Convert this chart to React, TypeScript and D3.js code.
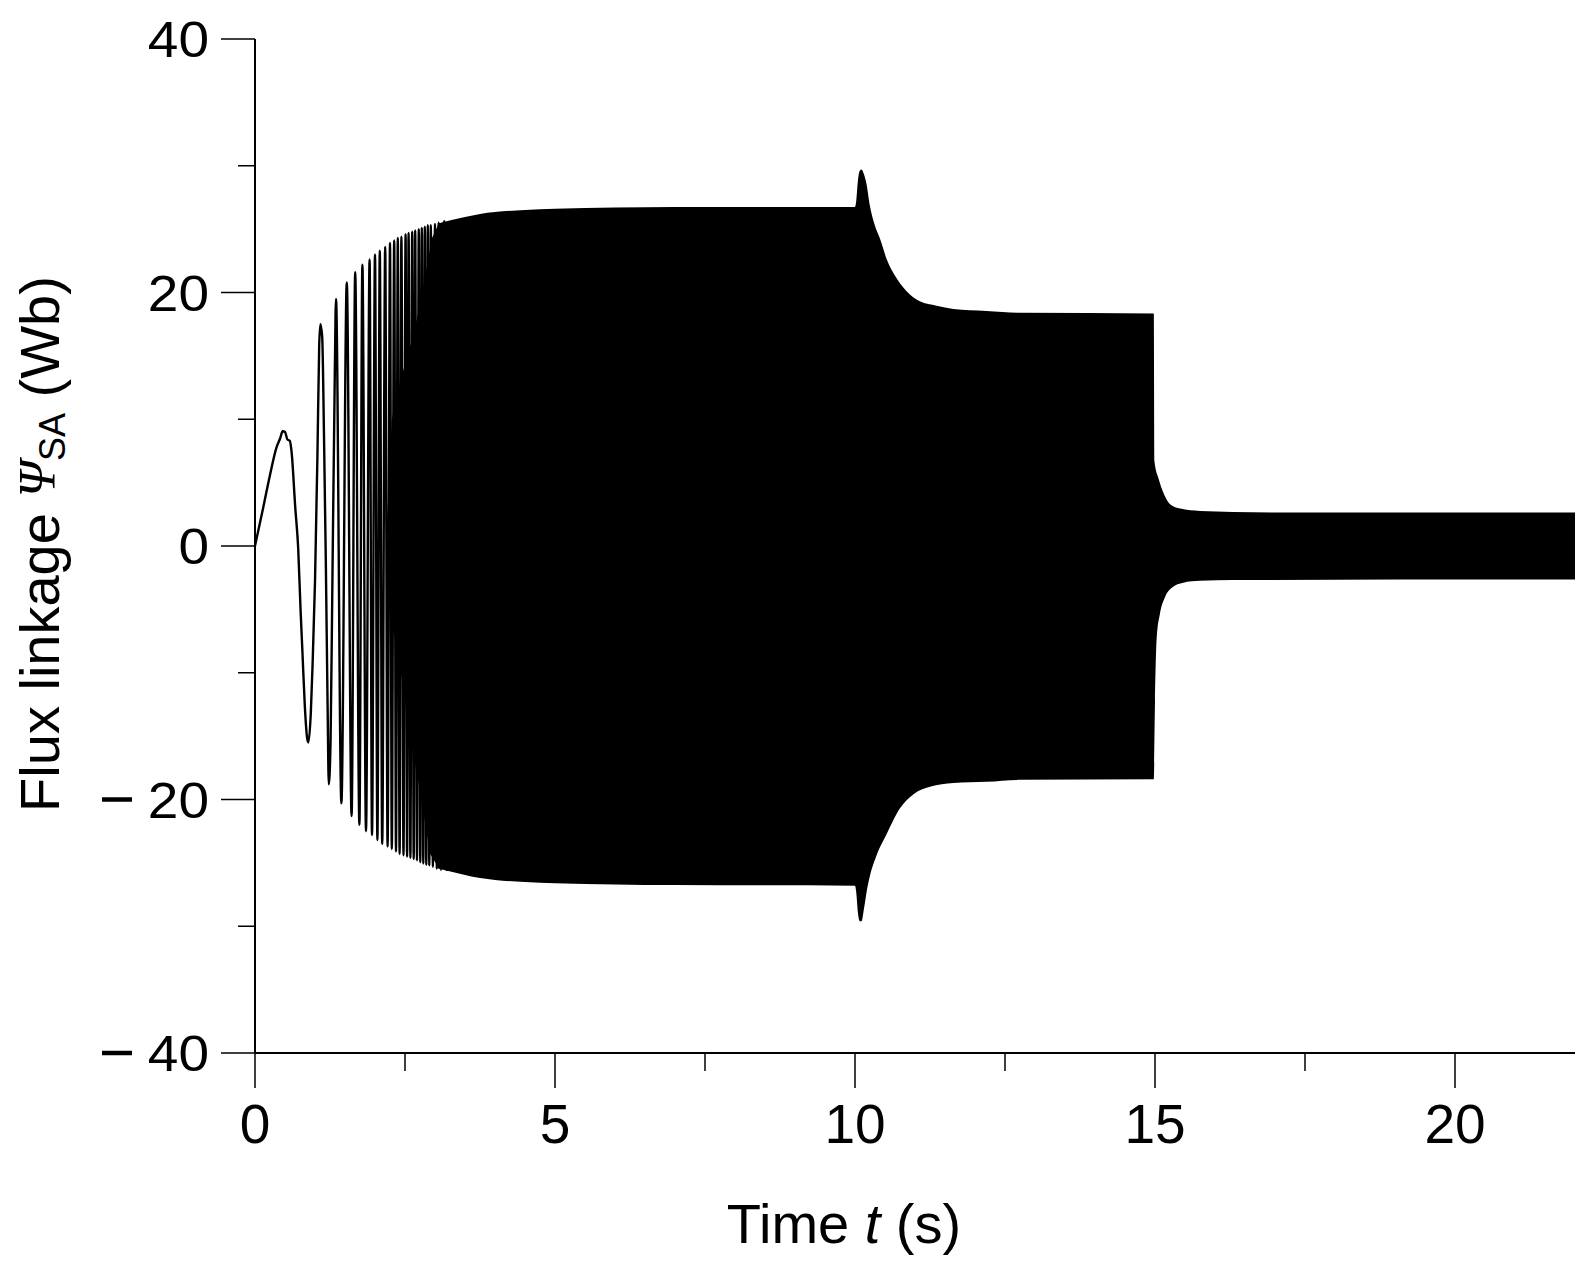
import * as d3 from 'd3';

// axis ticks
const xMajor = [0, 5, 10, 15, 20];
const xMinor = [2.5, 7.5, 12.5, 17.5];
const yMajor = [-40, -20, 0, 20, 40];
const yMinor = [-30, -10, 10, 30];

// start-up swing, read point by point, then the alternating peaks of the chirp
const traceT = [
  0, 0.14, 0.25, 0.36, 0.42, 0.46, 0.5, 0.54, 0.58, 0.61, 0.67, 0.72, 0.76, 0.79, 0.83, 0.87, 0.89,
  0.93, 0.96, 1.0, 1.04, 1.07, 1.09, 1.12, 1.15, 1.18, 1.21, 1.23, 1.26, 1.29, 1.33, 1.35,
  1.44, 1.53, 1.61, 1.67, 1.74, 1.79, 1.85, 1.91, 1.95, 2.0, 2.04, 2.08, 2.12, 2.17, 2.21, 2.25,
  2.28, 2.32, 2.35, 2.38, 2.41, 2.44, 2.475, 2.51, 2.535, 2.56, 2.59, 2.62, 2.645, 2.67, 2.7,
  2.73, 2.755, 2.78, 2.805, 2.83, 2.855, 2.88, 2.905, 2.93, 2.965, 3.0, 3.03, 3.06, 3.1, 3.15, 3.2,
];
const traceV = [
  0, 3.1, 5.6, 7.8, 8.5, 9.05, 9.0, 8.4, 8.3, 7.4, 3.1, -0.2, -5.1, -8.3, -12.6, -15.2, -15.5,
  -13.2, -9.3, -2.8, 7.0, 15.8, 17.5, 16.5, 8.7, -1.1, -12.6, -18.8, -15.2, -2.8, 13.6, 19.5,
  -20.3, 20.8, -21.3, 21.6, -22.0, 22.2, -22.5, 22.6, -22.8, 23.0, -23.2, 23.3, -23.5, 23.6, -23.7, 23.9,
  -23.9, 24.1, -24.1, 24.3, -24.3, 24.4, -24.4, 24.6, -24.5, 24.7, -24.6, 24.8, -24.7, 24.9, -24.8,
  25.0, -24.95, 25.1, -25.05, 25.2, -25.15, 25.3, -25.2, 25.3, -25.3, 25.4, -25.45, 25.5, -25.55, 25.6, -25.65,
];

// where the chirp already reads as solid black (left edge of the dark core)
const coreT = [3.05, 2.95, 2.75, 2.6, 2.42, 2.28, 2.2, 2.22, 2.35, 2.47, 2.58, 2.72, 2.92, 3.05];
const coreV = [25.3, 24.3, 19, 16, 13, 10, 2, -4, -8, -11, -15, -18.5, -24.3, -25.3];

// envelope of the dense oscillation
const upperT = [3.05, 3.5, 3.75, 4.0, 4.5, 5.0, 6.0, 7.0, 10.0, 10.02, 10.05, 10.08, 10.11, 10.15, 10.19,
  10.25, 10.33, 10.42, 10.53, 10.67, 10.86, 11.08, 11.36, 11.64, 12.19, 12.75, 14.98, 14.99, 15.06, 15.14,
  15.25, 15.42, 15.75, 16.3, 17.0, 22.0];
const upperV = [25.45, 25.95, 26.2, 26.35, 26.5, 26.6, 26.7, 26.75, 26.75, 27.2, 28.9, 29.6, 29.7, 29.3, 28.6,
  26.8, 25.3, 24.2, 22.6, 21.3, 20.1, 19.3, 18.95, 18.7, 18.55, 18.4, 18.35, 6.7, 5.3, 4.2,
  3.3, 2.95, 2.76, 2.69, 2.65, 2.65];
const lowerT = [3.05, 3.5, 3.75, 4.0, 4.5, 5.0, 6.0, 7.0, 10.0, 10.02, 10.05, 10.08, 10.11, 10.15, 10.2,
  10.25, 10.36, 10.53, 10.75, 10.97, 11.25, 11.64, 12.19, 12.75, 14.98, 15.0, 15.03, 15.08, 15.17,
  15.28, 15.47, 15.75, 16.3, 22.0];
const lowerV = [-25.45, -25.95, -26.2, -26.35, -26.5, -26.6, -26.7, -26.75, -26.8, -27.3, -29.0, -29.6, -29.6, -28.6, -27.1,
  -26.0, -24.4, -22.7, -20.7, -19.6, -19.0, -18.7, -18.6, -18.45, -18.4, -12.3, -7.1, -5.4, -4.0,
  -3.3, -2.9, -2.75, -2.68, -2.65];

const font = 'Liberation Sans, Arial, Helvetica, sans-serif';

const App = () => {
  const x = d3.scaleLinear().domain([0, 22]).range([255, 1575]);
  const y = d3.scaleLinear().domain([-40, 40]).range([1053, 39]);

  const trace = d3.line<number>()
    .x(i => x(traceT[i]))
    .y(i => y(traceV[i]))
    .curve(d3.curveMonotoneX)(traceT.map((_, i) => i)) ?? '';

  const upperArea = d3.area<number>()
    .x(i => x(upperT[i]))
    .y0(y(0))
    .y1(i => y(upperV[i]))
    .curve(d3.curveMonotoneX)(upperT.map((_, i) => i)) ?? '';
  const lowerArea = d3.area<number>()
    .x(i => x(lowerT[i]))
    .y0(y(0))
    .y1(i => y(lowerV[i]))
    .curve(d3.curveMonotoneX)(lowerT.map((_, i) => i)) ?? '';

  const core = d3.line<number>()
    .x(i => x(coreT[i]))
    .y(i => y(coreV[i]))(coreT.map((_, i) => i)) + 'Z';

  const x0 = x(0);
  const yb = y(-40);

  return (
    <svg width={1595} height={1273} style={{ position: 'absolute', left: 0, top: 0, background: '#fff' }}>
      <path d={upperArea} fill="#000" />
      <path d={lowerArea} fill="#000" />
      <path d={core} fill="#000" />
      <path d={trace} fill="none" stroke="#000" strokeWidth={2.4} />

      {/* y axis */}
      <line x1={x0} x2={x0} y1={y(40)} y2={yb} stroke="#000" strokeWidth={2} />
      {yMajor.map(v => (
        <g key={'ym' + v}>
          <line x1={x0 - 34} x2={x0} y1={y(v)} y2={y(v)} stroke="#000" strokeWidth={1.5} />
          <text transform={`translate(209,${y(v) + 18}) scale(1.1,1)`} textAnchor="end" fontFamily={font} fontSize={50}>
            {Math.abs(v)}
          </text>
          {v < 0 && (
            <line x1={102} x2={132} y1={y(v)} y2={y(v)} stroke="#000" strokeWidth={4.5} />
          )}
        </g>
      ))}
      {yMinor.map(v => (
        <line key={'yn' + v} x1={x0 - 17} x2={x0} y1={y(v)} y2={y(v)} stroke="#000" strokeWidth={1.5} />
      ))}

      {/* x axis */}
      <line x1={x0} x2={x(22)} y1={yb} y2={yb} stroke="#000" strokeWidth={2} />
      {xMajor.map(t => (
        <g key={'xm' + t}>
          <line x1={x(t)} x2={x(t)} y1={yb} y2={yb + 35} stroke="#000" strokeWidth={1.5} />
          <text x={x(t)} y={1143} textAnchor="middle" fontFamily={font} fontSize={55}>{t}</text>
        </g>
      ))}
      {xMinor.map(t => (
        <line key={'xn' + t} x1={x(t)} x2={x(t)} y1={yb} y2={yb + 18} stroke="#000" strokeWidth={1.5} />
      ))}

      <text x={844} y={1243} textAnchor="middle" fontFamily={font} fontSize={56}>
        Time <tspan fontStyle="italic">t</tspan> (s)
      </text>

      <text transform="translate(59,544) rotate(-90)" textAnchor="middle" fontFamily={font} fontSize={56}>
        Flux linkage <tspan fontFamily="Liberation Serif, DejaVu Serif, serif" fontStyle="italic" fontSize={52} dy={-4}>Ψ</tspan>
        <tspan fontSize={36} dy={10}>SA</tspan>
        <tspan dy={-6}> (Wb)</tspan>
      </text>
    </svg>
  );
};

export default App;
